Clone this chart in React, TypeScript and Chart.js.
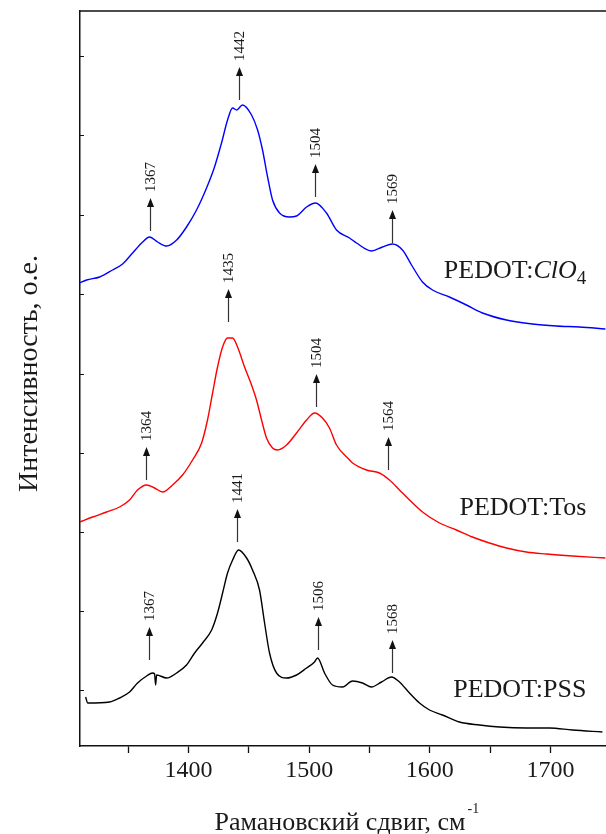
import { useEffect, useRef } from 'react';
import { Chart, registerables } from 'chart.js';

Chart.register(...registerables);

const X_MIN = 1310;
const X_MAX = 1746;
const Y_MIN = 0;
const Y_MAX = 735;

const xTicks = [1350, 1400, 1450, 1500, 1550, 1600, 1650, 1700];
const xMajorTicks = [1400, 1500, 1600, 1700];
const yTicks = [56, 135, 214, 293, 372, 452, 531, 611, 690];

const xTitle = 'Рамановский сдвиг, см';
const xTitleSup = '-1';
const yTitle = 'Интенсивность, о.е.';

// PEDOT:ClO4 (blue)
const clo4Wavenumber = [1309.7, 1315.5, 1326.3, 1337, 1345.3, 1353.6, 1361.1, 1367.7, 1374.3, 1381.8, 1390.1, 1398.3, 1406.6, 1414.9, 1421.5, 1427.3, 1432.3, 1436.5, 1439.8, 1444.7, 1452.2, 1457.2, 1461.3, 1465.5, 1469.6, 1475.4, 1483.7, 1489.5, 1497.8, 1505.2, 1514.3, 1522.6, 1533.4, 1539.2, 1551.6, 1560.7, 1569, 1577.3, 1584.8, 1593.9, 1602.2, 1616.2, 1630.3, 1643.6, 1663.5, 1685, 1704.9, 1723.9, 1745.5];
const clo4Intensity = [463, 466, 469, 476, 482, 493, 503, 509, 504, 500, 506, 519, 536, 558, 579, 603, 626, 638, 636, 641, 631, 616, 596, 569, 546, 533, 529, 530, 539, 543, 533, 516, 508, 503, 495, 499, 502, 496, 481, 464, 456, 449, 441, 433, 426, 422, 420, 419, 417];

// PEDOT:Tos (red)
const tosWavenumber = [1309.7, 1320.5, 1332.1, 1342.8, 1351.1, 1357.7, 1365.2, 1371.8, 1378.5, 1386.7, 1395, 1403.3, 1410.8, 1415.7, 1419.9, 1424, 1428.2, 1432.3, 1436.5, 1440.6, 1446.4, 1452.2, 1456.3, 1460.5, 1464.6, 1469.6, 1473.7, 1481.2, 1489.5, 1497.8, 1504.4, 1511, 1516.8, 1522.6, 1533.4, 1535.9, 1547.5, 1558.2, 1566.5, 1574.8, 1583.1, 1593.9, 1608, 1622, 1635.3, 1649.4, 1663.5, 1680, 1696.6, 1718.1, 1745.5];
const tosIntensity = [224, 229, 234, 239, 246, 256, 261, 258, 254, 261, 271, 286, 303, 326, 353, 379, 399, 408, 408, 399, 379, 361, 346, 326, 308, 298, 296, 301, 313, 326, 333, 328, 318, 301, 286, 283, 276, 273, 266, 256, 246, 234, 223, 216, 209, 203, 198, 194, 192, 190, 188];

// PEDOT:PSS (black)
const pssWavenumber = [1314.7, 1316.3, 1334.5, 1342.8, 1351.1, 1357.7, 1365.2, 1370.2, 1371.8, 1372.7, 1373.5, 1381.8, 1390.1, 1398.3, 1405, 1411.6, 1419.1, 1424, 1428.2, 1432.3, 1436.5, 1441.4, 1448.1, 1453, 1458.8, 1463, 1467.1, 1472.9, 1481.2, 1489.5, 1497.8, 1504.4, 1506.9, 1512.7, 1519.3, 1527.6, 1535.9, 1544.2, 1551.6, 1559.9, 1568.2, 1574.8, 1583.1, 1591.4, 1599.7, 1610.4, 1624.5, 1641.1, 1657.7, 1680, 1699.1, 1718.1, 1743];
const pssIntensity = [49, 43, 44, 48, 54, 63, 70, 73, 72, 61, 71, 68, 73, 81, 93, 103, 116, 133, 153, 173, 186, 196, 188, 176, 156, 123, 93, 73, 68, 71, 78, 84, 88, 73, 61, 59, 65, 63, 59, 64, 69, 64, 53, 43, 36, 31, 24, 21, 19, 18, 18, 16, 14];

// Peak annotations
const clo4PeakLabels = ['1367', '1442', '1504', '1569'];
const clo4PeakPos = [1367.7, 1441.4, 1505.2, 1569];
const clo4ArrowBase = [515, 646, 549, 503];

const tosPeakLabels = ['1364', '1435', '1504', '1564'];
const tosPeakPos = [1364.4, 1432.3, 1506, 1565.7];
const tosArrowBase = [266, 424, 339, 276];

const pssPeakLabels = ['1367', '1441', '1506', '1568'];
const pssPeakPos = [1366.9, 1439.8, 1506.9, 1569];
const pssArrowBase = [86, 204, 96, 73];

// Series names (right edge wavenumber, baseline intensity)
const seriesNameX = [1729.7, 1729.7, 1729.7];
const seriesNameY = [468, 231, 49];

const SERIF = '"Liberation Serif", "DejaVu Serif", serif';
const TEXT = '#1a1a1a';

function toPoints(xs: number[], ys: number[]) {
  return xs.map((x, i) => ({ x, y: ys[i] }));
}

const decorPlugin = {
  id: 'decor',
  afterDraw(chart: any) {
    const { ctx, chartArea, scales } = chart;
    const xs = scales.x;
    const ys = scales.y;
    ctx.save();

    // top frame line
    ctx.strokeStyle = '#111';
    ctx.lineWidth = 1.5;
    ctx.beginPath();
    ctx.moveTo(chartArea.left, chartArea.top);
    ctx.lineTo(chartArea.right, chartArea.top);
    ctx.stroke();

    // inward y ticks
    ctx.lineWidth = 1.2;
    ctx.beginPath();
    for (const v of yTicks) {
      const py = Math.round(ys.getPixelForValue(v)) + 0.5;
      ctx.moveTo(chartArea.left, py);
      ctx.lineTo(chartArea.left + 4, py);
    }
    ctx.stroke();

    // arrows + labels
    const groups = [
      [clo4PeakLabels, clo4PeakPos, clo4ArrowBase],
      [tosPeakLabels, tosPeakPos, tosArrowBase],
      [pssPeakLabels, pssPeakPos, pssArrowBase],
    ] as const;
    ctx.font = `15px ${SERIF}`;
    for (const [labels, pos, base] of groups) {
      for (let i = 0; i < labels.length; i++) {
        const px = Math.round(xs.getPixelForValue(pos[i])) + 0.5;
        const yb = ys.getPixelForValue(base[i]);
        const tip = yb - 33;
        ctx.strokeStyle = '#333';
        ctx.fillStyle = '#111';
        ctx.lineWidth = 1.2;
        ctx.beginPath();
        ctx.moveTo(px, yb);
        ctx.lineTo(px, tip + 8);
        ctx.stroke();
        ctx.beginPath();
        ctx.moveTo(px, tip);
        ctx.lineTo(px - 3.5, tip + 9);
        ctx.lineTo(px + 3.5, tip + 9);
        ctx.closePath();
        ctx.fill();
        ctx.save();
        ctx.translate(px + 1, tip - 6);
        ctx.rotate(-Math.PI / 2);
        ctx.fillStyle = TEXT;
        ctx.textAlign = 'left';
        ctx.textBaseline = 'middle';
        ctx.fillText(labels[i], 0, 0);
        ctx.restore();
      }
    }

    // series names
    ctx.fillStyle = TEXT;
    ctx.textBaseline = 'alphabetic';
    ctx.textAlign = 'left';
    const nameParts = [
      [
        { t: 'PEDOT:', f: `26px ${SERIF}`, dy: 0 },
        { t: 'ClO', f: `italic 26px ${SERIF}`, dy: 0 },
        { t: '4', f: `19px ${SERIF}`, dy: 6 },
      ],
      [{ t: 'PEDOT:Tos', f: `26px ${SERIF}`, dy: 0 }],
      [{ t: 'PEDOT:PSS', f: `26px ${SERIF}`, dy: 0 }],
    ];
    nameParts.forEach((parts, k) => {
      let total = 0;
      for (const p of parts) {
        ctx.font = p.f;
        total += ctx.measureText(p.t).width;
      }
      let cx = xs.getPixelForValue(seriesNameX[k]) - total;
      const by = ys.getPixelForValue(seriesNameY[k]);
      for (const p of parts) {
        ctx.font = p.f;
        ctx.fillText(p.t, cx, by + p.dy);
        cx += ctx.measureText(p.t).width;
      }
    });

    // x title
    ctx.font = `26px ${SERIF}`;
    const mw = ctx.measureText(xTitle).width;
    const cxm = (chartArea.left + chartArea.right) / 2 - 3;
    const tx = cxm - mw / 2;
    ctx.fillText(xTitle, tx, 830);
    ctx.font = `14px ${SERIF}`;
    ctx.fillText(xTitleSup, tx + mw + 2, 813);

    // y title
    ctx.save();
    ctx.translate(37, (chartArea.top + chartArea.bottom) / 2 - 5);
    ctx.rotate(-Math.PI / 2);
    ctx.font = `28px ${SERIF}`;
    ctx.textAlign = 'center';
    ctx.textBaseline = 'alphabetic';
    ctx.fillText(yTitle, 0, 0);
    ctx.restore();

    ctx.restore();
  },
};

export default function App() {
  const ref = useRef<HTMLCanvasElement | null>(null);

  useEffect(() => {
    if (!ref.current) return;
    const lineDs = (label: string, xs: number[], ys: number[], color: string) => ({
      label,
      data: toPoints(xs, ys),
      borderColor: color,
      backgroundColor: color,
      borderWidth: 1.4,
      pointRadius: 0,
      fill: false,
      cubicInterpolationMode: 'monotone' as const,
    });
    const chart = new Chart(ref.current, {
      type: 'line',
      data: {
        datasets: [
          lineDs('PEDOT:ClO4', clo4Wavenumber, clo4Intensity, '#0000ff'),
          lineDs('PEDOT:Tos', tosWavenumber, tosIntensity, '#ff0000'),
          lineDs('PEDOT:PSS', pssWavenumber, pssIntensity, '#000000'),
        ],
      },
      options: {
        animation: false,
        responsive: false,
        devicePixelRatio: 1,
        layout: { padding: { top: 11, left: 0, right: 0, bottom: 0 } },
        plugins: { legend: { display: false }, tooltip: { enabled: false } },
        scales: {
          x: {
            type: 'linear',
            min: X_MIN,
            max: X_MAX,
            afterFit: (s: any) => {
              s.height = 88;
            },
            afterBuildTicks: (s: any) => {
              s.ticks = xTicks.map((value) => ({ value }));
            },
            ticks: {
              autoSkip: false,
              maxRotation: 0,
              padding: 3,
              color: TEXT,
              font: { family: SERIF, size: 24 },
              callback: (v: any) => (xMajorTicks.includes(Number(v)) ? String(v) : ''),
            },
            grid: {
              drawOnChartArea: false,
              drawTicks: true,
              tickLength: 7,
              tickColor: '#111',
              tickWidth: 1.3,
            },
            border: { display: true, color: '#111', width: 1.5 },
          },
          y: {
            type: 'linear',
            min: Y_MIN,
            max: Y_MAX,
            afterFit: (s: any) => {
              s.width = 80;
            },
            ticks: { display: false },
            grid: { drawOnChartArea: false, drawTicks: false },
            border: { display: true, color: '#111', width: 1.5 },
          },
        },
      },
      plugins: [decorPlugin],
    });
    return () => chart.destroy();
  }, []);

  return (
    <div style={{ position: 'absolute', left: 0, top: 0, width: 606, height: 834, background: '#fff' }}>
      <canvas ref={ref} width={606} height={834} style={{ display: 'block' }} />
    </div>
  );
}
